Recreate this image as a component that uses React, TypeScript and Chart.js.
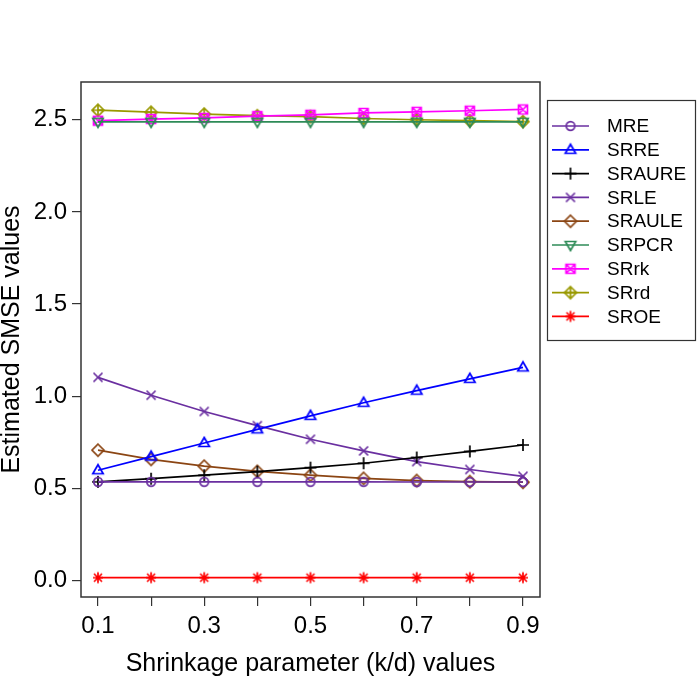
import React, { useEffect, useRef } from 'react';
import { Chart, registerables } from 'chart.js';

Chart.register(...registerables);

const xValues = [0.1, 0.2, 0.3, 0.4, 0.5, 0.6, 0.7, 0.8, 0.9];
const xTickLabels = ['0.1', '', '0.3', '', '0.5', '', '0.7', '', '0.9'];
const yTickValues = [0, 0.5, 1.0, 1.5, 2.0, 2.5];
const yTickLabels = ['0.0', '0.5', '1.0', '1.5', '2.0', '2.5'];

const MRE = [0.535, 0.535, 0.535, 0.535, 0.535, 0.535, 0.534, 0.534, 0.534];
const SRRE = [0.598, 0.672, 0.746, 0.820, 0.893, 0.964, 1.030, 1.094, 1.156];
const SRAURE = [0.535, 0.552, 0.571, 0.590, 0.612, 0.636, 0.667, 0.700, 0.735];
const SRLE = [1.102, 1.005, 0.917, 0.840, 0.766, 0.703, 0.645, 0.602, 0.565];
const SRAULE = [0.707, 0.657, 0.620, 0.592, 0.571, 0.554, 0.542, 0.536, 0.533];
const SRPCR = [2.489, 2.489, 2.489, 2.489, 2.489, 2.489, 2.489, 2.489, 2.489];
const SRrk = [2.495, 2.504, 2.510, 2.520, 2.527, 2.537, 2.543, 2.549, 2.556];
const SRrd = [2.552, 2.541, 2.531, 2.522, 2.517, 2.507, 2.500, 2.495, 2.490];
const SROE = [0.015, 0.015, 0.015, 0.015, 0.015, 0.015, 0.015, 0.015, 0.015];

const seriesNames = ['MRE', 'SRRE', 'SRAURE', 'SRLE', 'SRAULE', 'SRPCR', 'SRrk', 'SRrd', 'SROE'];
const seriesValues = [MRE, SRRE, SRAURE, SRLE, SRAULE, SRPCR, SRrk, SRrd, SROE];
const seriesColors = ['#6a2fa0', '#0000ff', '#000000', '#6a2fa0', '#8b4513', '#2e8b57', '#ff00ff', '#999900', '#ff0000'];
const seriesMarkers = ['circle', 'triUp', 'plus', 'cross', 'diamond', 'triDown', 'squareX', 'diamondPlus', 'star'];

const FONT = '"Liberation Sans", Arial, Helvetica, sans-serif';

function makeMarker(kind: string, color: string): HTMLCanvasElement {
  const s = 16;
  const c = s / 2;
  const cv = document.createElement('canvas');
  cv.width = s;
  cv.height = s;
  const g = cv.getContext('2d')!;
  g.strokeStyle = color;
  g.lineWidth = 1.7;
  const r = 5;
  g.beginPath();
  switch (kind) {
    case 'circle':
      g.arc(c, c, 4.3, 0, Math.PI * 2);
      break;
    case 'triUp':
      g.moveTo(c, c - 5.5);
      g.lineTo(c + 5.2, c + 3.5);
      g.lineTo(c - 5.2, c + 3.5);
      g.closePath();
      break;
    case 'triDown':
      g.moveTo(c, c + 5.5);
      g.lineTo(c + 5.2, c - 3.5);
      g.lineTo(c - 5.2, c - 3.5);
      g.closePath();
      break;
    case 'plus':
      g.moveTo(c - 6, c);
      g.lineTo(c + 6, c);
      g.moveTo(c, c - 6);
      g.lineTo(c, c + 6);
      break;
    case 'cross':
      g.moveTo(c - 4.5, c - 4.5);
      g.lineTo(c + 4.5, c + 4.5);
      g.moveTo(c + 4.5, c - 4.5);
      g.lineTo(c - 4.5, c + 4.5);
      break;
    case 'diamond':
      g.moveTo(c, c - 6);
      g.lineTo(c + 6, c);
      g.lineTo(c, c + 6);
      g.lineTo(c - 6, c);
      g.closePath();
      break;
    case 'squareX':
      g.rect(c - 4.5, c - 4.5, 9, 9);
      g.moveTo(c - 4.5, c - 4.5);
      g.lineTo(c + 4.5, c + 4.5);
      g.moveTo(c + 4.5, c - 4.5);
      g.lineTo(c - 4.5, c + 4.5);
      break;
    case 'diamondPlus':
      g.moveTo(c, c - 6);
      g.lineTo(c + 6, c);
      g.lineTo(c, c + 6);
      g.lineTo(c - 6, c);
      g.closePath();
      g.moveTo(c - 6, c);
      g.lineTo(c + 6, c);
      g.moveTo(c, c - 6);
      g.lineTo(c, c + 6);
      break;
    case 'star':
      g.moveTo(c - r, c);
      g.lineTo(c + r, c);
      g.moveTo(c, c - r - 0.5);
      g.lineTo(c, c + r + 0.5);
      g.moveTo(c - 4, c - 4);
      g.lineTo(c + 4, c + 4);
      g.moveTo(c + 4, c - 4);
      g.lineTo(c - 4, c + 4);
      break;
  }
  g.stroke();
  return cv;
}

const boxAndLegend = {
  id: 'boxAndLegend',
  afterDraw(chart: any) {
    const { ctx, chartArea } = chart;
    ctx.save();
    ctx.strokeStyle = '#333';
    ctx.lineWidth = 1.5;
    ctx.strokeRect(chartArea.left, chartArea.top, chartArea.right - chartArea.left, chartArea.bottom - chartArea.top);

    // legend box
    const lx = 547.5, ly = 100.5, lw = 148, lh = 240;
    ctx.lineWidth = 1.2;
    ctx.strokeStyle = '#333';
    ctx.strokeRect(lx, ly, lw, lh);
    ctx.font = `19px ${FONT}`;
    ctx.textBaseline = 'middle';
    ctx.textAlign = 'left';
    chart.data.datasets.forEach((ds: any, i: number) => {
      const y = 126 + i * 23.8;
      ctx.strokeStyle = ds.borderColor;
      ctx.lineWidth = 1.7;
      ctx.beginPath();
      ctx.moveTo(552, y);
      ctx.lineTo(589, y);
      ctx.stroke();
      const img = ds.pointStyle as HTMLCanvasElement;
      ctx.drawImage(img, 570.5 - img.width / 2, y - img.height / 2);
      ctx.fillStyle = '#000';
      ctx.fillText(ds.label, 607, y + 1);
    });
    ctx.restore();
  },
};

export default function App() {
  const ref = useRef<HTMLCanvasElement>(null);
  useEffect(() => {
    if (!ref.current) return;
    Chart.defaults.font.family = FONT;
    const datasets = seriesNames.map((name, i) => ({
      label: name,
      data: xValues.map((x, j) => ({ x, y: seriesValues[i][j] })),
      borderColor: seriesColors[i],
      backgroundColor: seriesColors[i],
      borderWidth: 1.7,
      tension: 0,
      pointStyle: makeMarker(seriesMarkers[i], seriesColors[i]),
      pointRadius: 5,
    }));
    const chart = new Chart(ref.current, {
      type: 'line',
      data: { datasets },
      plugins: [boxAndLegend],
      options: {
        animation: false,
        responsive: false,
        layout: { padding: { top: 82, right: 160, left: 0, bottom: 0 } },
        plugins: { legend: { display: false }, tooltip: { enabled: false } },
        scales: {
          x: {
            type: 'linear',
            min: 0.068,
            max: 0.932,
            afterFit: (s: any) => { s.height = 103; },
            afterBuildTicks: (s: any) => { s.ticks = xValues.map((v) => ({ value: v })); },
            ticks: {
              autoSkip: false,
              maxRotation: 0,
              padding: 6,
              color: '#000',
              font: { size: 24 },
              callback: (_v: any, idx: number) => xTickLabels[idx],
            },
            grid: { drawOnChartArea: false, drawTicks: true, tickLength: 9, color: '#333', lineWidth: 1.2 },
            border: { display: false },
            title: {
              display: true,
              text: 'Shrinkage parameter (k/d) values',
              color: '#000',
              font: { size: 25, lineHeight: 1.0 },
              padding: { top: 0, bottom: 23 },
            },
          },
          y: {
            type: 'linear',
            min: -0.09,
            max: 2.705,
            afterFit: (s: any) => { s.width = 81; },
            afterBuildTicks: (s: any) => { s.ticks = yTickValues.map((v) => ({ value: v })); },
            ticks: {
              autoSkip: false,
              padding: 5,
              color: '#000',
              font: { size: 24 },
              callback: (_v: any, idx: number) => yTickLabels[idx],
            },
            grid: { drawOnChartArea: false, drawTicks: true, tickLength: 9, color: '#333', lineWidth: 1.2 },
            border: { display: false },
            title: {
              display: true,
              text: 'Estimated SMSE values',
              color: '#000',
              font: { size: 25, lineHeight: 1.0 },
              padding: { top: 0, bottom: 0 },
            },
          },
        },
      },
    });
    return () => chart.destroy();
  }, []);
  return (
    <div style={{ position: 'absolute', left: 0, top: 0, width: 700, height: 700, background: '#fff' }}>
      <canvas ref={ref} width={700} height={700} style={{ display: 'block' }} />
    </div>
  );
}
